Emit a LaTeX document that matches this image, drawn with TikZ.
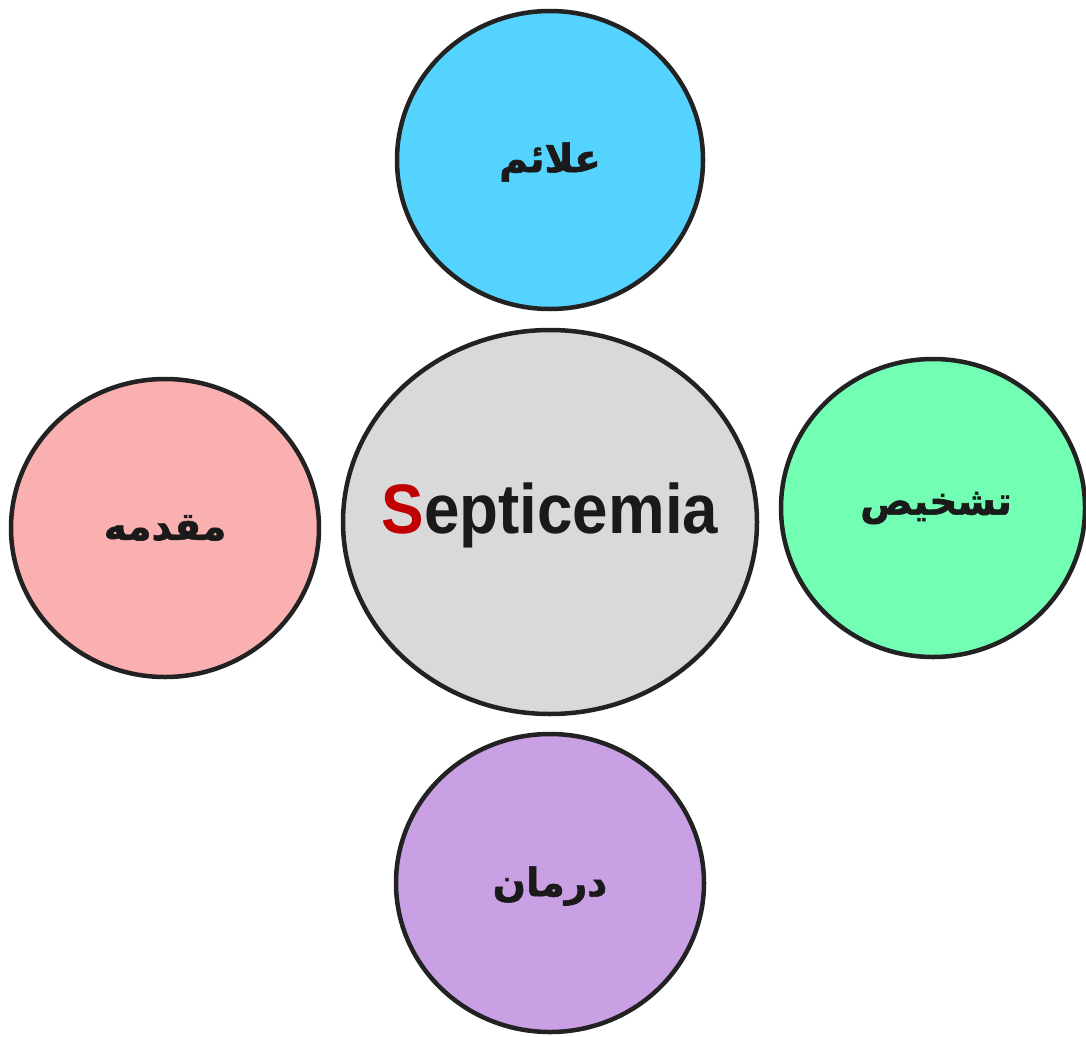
\documentclass[tikz,border=0pt]{standalone}
\usepackage{fontspec}
\setsansfont{Liberation Sans}
\newfontfamily\arabicfont[Script=Arabic,FakeBold=1.5]{DejaVu Sans Bold}
\TeXXeTstate=1
\definecolor{cblue}{HTML}{55D3FF}
\definecolor{cgray}{HTML}{D9D9D9}
\definecolor{cpink}{HTML}{FAB0B0}
\definecolor{cgreen}{HTML}{73FFB3}
\definecolor{cpurple}{HTML}{C8A0E3}
\definecolor{cline}{HTML}{222222}
\definecolor{cred}{HTML}{C00000}
\definecolor{ctext}{HTML}{1A1A1A}
\begin{document}
\begin{tikzpicture}[x=1pt,y=-1pt,
  bubble/.style={draw=cline,line width=4.5pt},
  artext/.style={font=\arabicfont\fontsize{39}{43}\selectfont,text=ctext,inner sep=0pt}]
\useasboundingbox (0,0) rectangle (1086,1036);
\filldraw[bubble,fill=cblue] (550,160) ellipse [x radius=153,y radius=149];
\filldraw[bubble,fill=cgray] (550,522) ellipse [x radius=207,y radius=192];
\filldraw[bubble,fill=cpink] (165,528) ellipse [x radius=154,y radius=149];
\filldraw[bubble,fill=cgreen] (933,508) ellipse [x radius=152,y radius=149];
\filldraw[bubble,fill=cpurple] (550,883) ellipse [x radius=154,y radius=149];
\node[artext] (top) at (550,162) {\beginR علائم\endR};
\node[artext] (left) at (165,528) {\beginR مقدمه\endR};
\node[artext] (right) at (936,508) {\beginR تشخیص\endR};
\node[artext] (bottom) at (550,886) {\beginR درمان\endR};
\node[font=\sffamily\bfseries\fontsize{70}{74}\selectfont,text=ctext,inner sep=0pt,xscale=0.91,anchor=base] (center) at (550,533) {\textcolor{cred}{S}epticemia};
\end{tikzpicture}
\end{document}
